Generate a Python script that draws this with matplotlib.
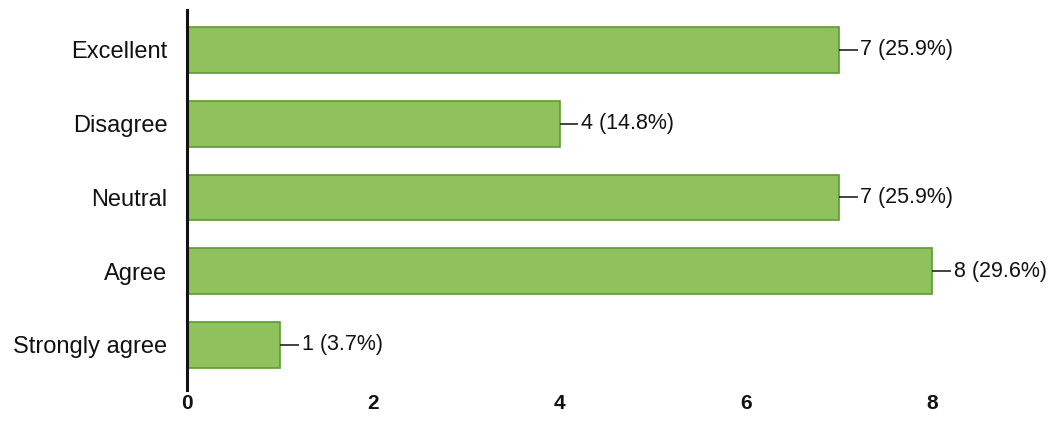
import matplotlib.pyplot as plt

plt.rcParams['font.family'] = ['Liberation Sans', 'DejaVu Sans']

# data (bottom to top)
categories = ["Strongly agree", "Agree", "Neutral", "Disagree", "Excellent"]
counts = [1, 8, 7, 4, 7]
percents = [3.7, 29.6, 25.9, 14.8, 25.9]
xticks = [0, 2, 4, 6, 8]

fig = plt.figure(figsize=(10.54, 4.26), dpi=100)
ax = fig.add_axes([0.1774, 0.0845, 0.8131, 0.892])

ypos = list(range(len(categories)))
ax.barh(ypos, counts, height=0.62, color='#8fc15c', edgecolor='#5f9a34', linewidth=1.2)

# value labels with short leader line
for y, c, p in zip(ypos, counts, percents):
    ax.plot([c, c + 0.2], [y, y], color='#222222', lw=1.2, solid_capstyle='butt')
    ax.text(c + 0.23, y, f"{c} ({p}%)", va='center', ha='left', fontsize=15.5, color='#111111')

ax.set_xlim(0, 9.2)
ax.set_ylim(-0.61, 4.54)
ax.set_yticks(ypos)
ax.set_yticklabels(categories, fontsize=17, color='#111111')
ax.set_xticks(xticks)
ax.set_xticklabels([str(t) for t in xticks], fontsize=15, fontweight='bold', color='#111111')
ax.tick_params(axis='y', length=0, pad=14)
ax.tick_params(axis='x', length=0, pad=3)

for s in ['top', 'right', 'bottom']:
    ax.spines[s].set_visible(False)
ax.spines['left'].set_linewidth(2.2)
ax.spines['left'].set_color('#111111')

fig.savefig("out.png", dpi=100)
